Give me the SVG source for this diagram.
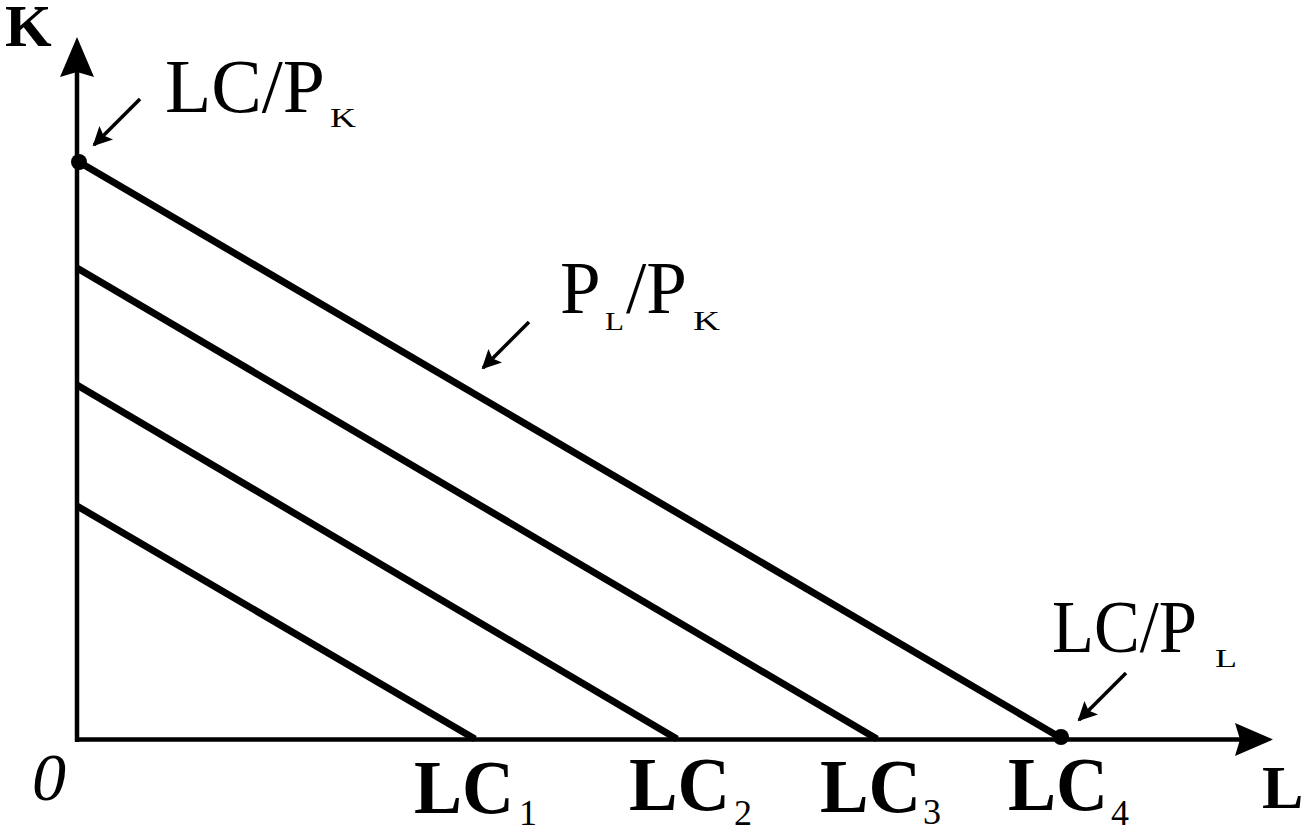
<svg xmlns="http://www.w3.org/2000/svg" width="1303" height="831" viewBox="0 0 1303 831">
<style>
.axis{stroke:#000;stroke-width:4.5;fill:none}
.lc{stroke:#000;stroke-width:7;fill:none}
.ptr{stroke:#000;stroke-width:3.5;fill:none}
.t{font-family:"Liberation Serif","Times New Roman",serif;fill:#000}
.b{font-weight:bold}
</style>
<defs>
<marker id="ah" viewBox="0 0 10 10" refX="9" refY="5" markerWidth="6.5" markerHeight="5.5" markerUnits="strokeWidth" orient="auto">
<path d="M0,0 L10,5 L0,10 L2,5 Z" fill="#000"/>
</marker>
</defs>
<rect width="1303" height="831" fill="#fff"/>
<g id="axes">
<line class="axis" x1="77" y1="742" x2="77" y2="70"/>
<polygon points="77,37 94,77 77,72 60,77" fill="#000"/>
<line class="axis" x1="75" y1="739.5" x2="1240" y2="739.5"/>
<polygon points="1273,739.5 1235,756 1240,739.5 1235,723" fill="#000"/>
</g>
<g id="connectors">
<line class="lc" x1="79" y1="162" x2="1061" y2="738"/>
<line class="lc" x1="77" y1="268" x2="877" y2="739"/>
<line class="lc" x1="77" y1="385" x2="677" y2="739"/>
<line class="lc" x1="77" y1="506" x2="475" y2="739"/>
<line class="ptr" x1="140" y1="99" x2="94" y2="145" marker-end="url(#ah)"/>
<line class="ptr" x1="529" y1="322" x2="483" y2="368" marker-end="url(#ah)"/>
<line class="ptr" x1="1126" y1="673" x2="1079" y2="720" marker-end="url(#ah)"/>
</g>
<g id="dots">
<circle cx="79" cy="162" r="8" fill="#000"/>
<circle cx="1061" cy="737" r="8" fill="#000"/>
</g>
<g id="label-K"><text class="t b" x="5" y="46" font-size="60">K</text></g>
<g id="label-L"><text class="t b" x="1262" y="808" font-size="62">L</text></g>
<g id="label-0"><text class="t" x="32" y="800" font-size="68" font-style="italic">0</text></g>
<g id="label-LCPK">
<text class="t" x="165" y="112" font-size="76" textLength="160" lengthAdjust="spacingAndGlyphs">LC/P</text>
<text class="t" x="330" y="127" font-size="27" textLength="26" lengthAdjust="spacingAndGlyphs">K</text>
</g>
<g id="label-PLPK">
<text class="t" x="560" y="313" font-size="73">P</text>
<text class="t" x="605" y="330" font-size="26" textLength="19" lengthAdjust="spacingAndGlyphs">L</text>
<text class="t" x="626" y="313" font-size="73">/P</text>
<text class="t" x="693" y="330" font-size="27" textLength="27" lengthAdjust="spacingAndGlyphs">K</text>
</g>
<g id="label-LCPL">
<text class="t" x="1052" y="652" font-size="74" textLength="145" lengthAdjust="spacingAndGlyphs">LC/P</text>
<text class="t" x="1215" y="667" font-size="26" textLength="22" lengthAdjust="spacingAndGlyphs">L</text>
</g>
<g id="label-LC1">
<text class="t b" x="414" y="813" font-size="76" textLength="100" lengthAdjust="spacingAndGlyphs">LC</text>
<text class="t" x="519" y="825" font-size="36">1</text>
</g>
<g id="label-LC2">
<text class="t b" x="629" y="810" font-size="76" textLength="101" lengthAdjust="spacingAndGlyphs">LC</text>
<text class="t" x="734" y="825" font-size="36">2</text>
</g>
<g id="label-LC3">
<text class="t b" x="820" y="812" font-size="76" textLength="101" lengthAdjust="spacingAndGlyphs">LC</text>
<text class="t" x="923" y="824" font-size="36">3</text>
</g>
<g id="label-LC4">
<text class="t b" x="1008" y="810" font-size="76" textLength="100" lengthAdjust="spacingAndGlyphs">LC</text>
<text class="t" x="1111" y="825" font-size="36">4</text>
</g>
</svg>
